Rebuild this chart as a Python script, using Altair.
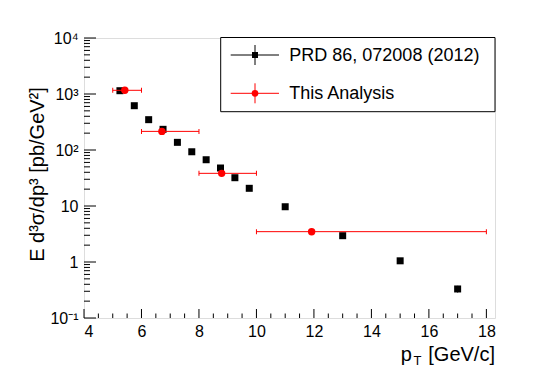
import altair as alt
import pandas as pd

# ---- data ----
prd_pt = [5.25, 5.75, 6.25, 6.75, 7.25, 7.75, 8.25, 8.75, 9.25, 9.75, 11.0, 13.0, 15.0, 17.0]
prd_val = [1145, 618, 348, 234, 137, 93, 67, 47.7, 32, 20.7, 9.7, 2.95, 1.05, 0.33]
prd_err = [20, 12, 7, 5, 3, 2, 1.5, 1.1, 0.8, 0.6, 0.3, 0.12, 0.06, 0.045]

ana_pt = [5.42, 6.71, 8.79, 11.92]
ana_lo = [5, 6, 8, 10]
ana_hi = [6, 8, 10, 18]
ana_val = [1164, 215, 38.3, 3.48]
ana_err = [25, 6, 1.5, 0.2]

series_names = ["PRD 86, 072008 (2012)", "This Analysis"]
series_colors = ["#000000", "#ff0000"]

x_major = [4, 6, 8, 10, 12, 14, 16, 18]
x_minor = [4.5, 5, 5.5, 6.5, 7, 7.5, 8.5, 9, 9.5, 10.5, 11, 11.5, 12.5, 13, 13.5,
           14.5, 15, 15.5, 16.5, 17, 17.5]
y_major = [0.1, 1, 10, 100, 1000, 10000]
y_labels = ["10⁻¹", "1", "10", "10²", "10³", "10⁴"]
y_minor = [m * d for d in [0.1, 1, 10, 100, 1000] for m in [2, 3, 4, 5, 6, 7, 8, 9]]

x_title_parts = ["p", "T", "[GeV/c]"]
y_title = "E d³σ/dp³ [pb/GeV²]"

FONT = "Liberation Sans"
W, H = 411, 280

prd = pd.DataFrame({"pt": prd_pt, "val": prd_val,
                    "lo": [v - e for v, e in zip(prd_val, prd_err)],
                    "hi": [v + e for v, e in zip(prd_val, prd_err)]})
ana = pd.DataFrame({"pt": ana_pt, "val": ana_val, "xlo": ana_lo, "xhi": ana_hi,
                    "lo": [v - e for v, e in zip(ana_val, ana_err)],
                    "hi": [v + e for v, e in zip(ana_val, ana_err)]})

xscale = alt.Scale(domain=[4, 18.3], nice=False, zero=False)
yscale = alt.Scale(type="log", domain=[0.1, 10000], nice=False)

label_expr = " : ".join(
    f"datum.value == {v} ? '{l}'" for v, l in zip(y_major, y_labels)) + " : ''"

x_axis = alt.Axis(values=x_major, title=None, ticks=False, tickSize=0, domain=False,
                  grid=False, labelFontSize=16, labelPadding=5, labelColor="black",
                  labelFont=FONT)
y_axis = alt.Axis(values=y_major, labelExpr=label_expr, ticks=False, tickSize=0,
                  domain=False, grid=False, labelFontSize=16, labelPadding=6,
                  labelColor="black", labelFont=FONT, title=y_title,
                  titleFontSize=20, titleFont=FONT, titleFontWeight="normal",
                  titleColor="black", titleAngle=270, titleX=-41, titleY=136,
                  titleAlign="center", titleBaseline="alphabetic")

X = lambda f: alt.X(f, type="quantitative", scale=xscale, axis=x_axis)
Y = lambda f: alt.Y(f, type="quantitative", scale=yscale, axis=y_axis)

# ---- data marks ----
prd_bars = alt.Chart(prd).mark_rule(color="black", strokeWidth=1).encode(
    x=X("pt"), y=Y("lo"), y2="hi")
prd_pts = alt.Chart(prd).mark_square(size=49, color="black", opacity=1).encode(
    x=X("pt"), y=Y("val"))

ana_h = alt.Chart(ana).mark_rule(color="#ff0000", strokeWidth=1).encode(
    x=X("xlo"), x2="xhi", y=Y("val"))
ana_v = alt.Chart(ana).mark_rule(color="#ff0000", strokeWidth=1).encode(
    x=X("pt"), y=Y("lo"), y2="hi")
cap_lo = alt.Chart(ana).mark_tick(orient="vertical", color="#ff0000", size=5,
                                  thickness=1, opacity=1).encode(x=X("xlo"), y=Y("val"))
cap_hi = alt.Chart(ana).mark_tick(orient="vertical", color="#ff0000", size=5,
                                  thickness=1, opacity=1).encode(x=X("xhi"), y=Y("val"))
ana_pts = alt.Chart(ana).mark_circle(size=55, color="#ff0000", opacity=1).encode(
    x=X("pt"), y=Y("val"))

# ---- inward axis ticks ----
xt_major = alt.Chart(pd.DataFrame({"pt": x_major})).mark_rule(color="black").encode(
    x=X("pt"), y=alt.value(H), y2=alt.value(H - 9))
xt_minor = alt.Chart(pd.DataFrame({"pt": x_minor})).mark_rule(color="black").encode(
    x=X("pt"), y=alt.value(H), y2=alt.value(H - 4.5))
yt_major = alt.Chart(pd.DataFrame({"val": y_major})).mark_rule(color="black").encode(
    y=Y("val"), x=alt.value(0), x2=alt.value(12))
yt_minor = alt.Chart(pd.DataFrame({"val": y_minor})).mark_rule(color="black").encode(
    y=Y("val"), x=alt.value(0), x2=alt.value(6))

# ---- x axis title with subscript ----
one = pd.DataFrame({"k": [0]})
xt1 = alt.Chart(one).mark_text(text=x_title_parts[0], font=FONT, fontSize=20, align="left",
                               baseline="alphabetic", color="black").encode(
    x=alt.value(316.7), y=alt.value(323))
xt2 = alt.Chart(one).mark_text(text=x_title_parts[1], font=FONT, fontSize=13, align="left",
                               baseline="alphabetic", color="black").encode(
    x=alt.value(329.5), y=alt.value(327))
xt3 = alt.Chart(one).mark_text(text=x_title_parts[2], font=FONT, fontSize=20, align="right",
                               baseline="alphabetic", color="black").encode(
    x=alt.value(411), y=alt.value(323))

# ---- legend ----
leg = [alt.Chart(one).mark_rect(fill="white", stroke="black", strokeWidth=1).encode(
    x=alt.value(136.7), x2=alt.value(411), y=alt.value(-0.5), y2=alt.value(73.7))]
entry_y = [17, 55.3]
for name, col, yy, shape in zip(series_names, series_colors, entry_y, ["square", "circle"]):
    leg.append(alt.Chart(one).mark_rule(color=col).encode(
        x=alt.value(146.7), x2=alt.value(195), y=alt.value(yy)))
    leg.append(alt.Chart(one).mark_rule(color=col).encode(
        x=alt.value(171), y=alt.value(yy - 10), y2=alt.value(yy + 10)))
    leg.append(alt.Chart(one).mark_point(shape=shape, filled=True, size=36 if shape == "square" else 45,
                                         color=col, opacity=1).encode(
        x=alt.value(171), y=alt.value(yy)))
    leg.append(alt.Chart(one).mark_text(text=name, font=FONT, fontSize=18, align="left",
                                        baseline="middle", color="black").encode(
        x=alt.value(205.3), y=alt.value(yy + 1)))

chart = alt.layer(
    prd_pts, prd_bars, ana_h, ana_v, cap_lo, cap_hi, ana_pts,
    xt_major, xt_minor, yt_major, yt_minor, xt1, xt2, xt3, *leg
).properties(
    width=W, height=H,
    autosize=alt.AutoSizeParams(type="none"),
    padding={"left": 76, "top": 30, "right": 49, "bottom": 49},
).configure_view(stroke="black", strokeWidth=1).configure(font=FONT)

chart.save("out.html", embed_options={"renderer": "svg", "actions": False})
